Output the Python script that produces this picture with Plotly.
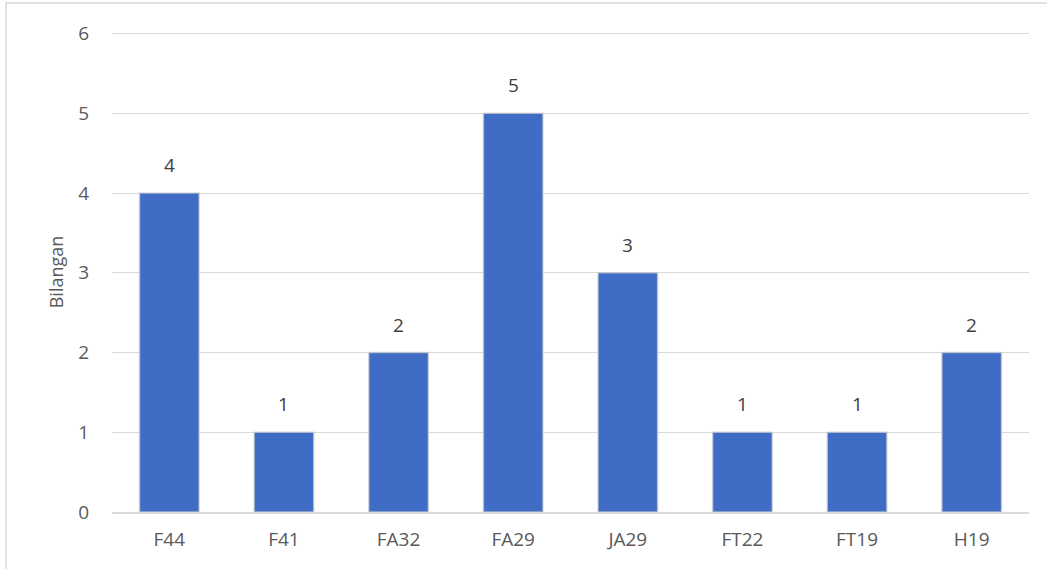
import plotly.graph_objects as go

categories = ["F44", "F41", "FA32", "FA29", "JA29", "FT22", "FT19", "H19"]
values = [4, 1, 2, 5, 3, 1, 1, 2]
y_ticks = [0, 1, 2, 3, 4, 5, 6]
y_title = "Bilangan"

font_family = "Open Sans, Liberation Sans, sans-serif"

fig = go.Figure()
fig.add_trace(go.Bar(
    x=categories,
    y=values,
    marker=dict(color="#3F6DC6", line=dict(color="rgba(205,205,205,0.7)", width=1.5)),
    hoverinfo="x+y",
))

for c, v in zip(categories, values):
    fig.add_annotation(x=c, y=v, text=str(v), showarrow=False, yanchor="bottom",
                       yshift=13, font=dict(size=19, color="#404040", family=font_family))

fig.add_shape(type="rect", xref="paper", yref="paper", x0=-0.1156, y0=-0.3, x1=1.05, y1=1.0604,
              line=dict(color="#D9D9D9", width=1.5), fillcolor="rgba(0,0,0,0)", layer="below")

fig.update_layout(
    width=1047, height=569,
    margin=dict(l=112, r=18, t=32, b=57),
    paper_bgcolor="white", plot_bgcolor="white",
    bargap=0.48,
    showlegend=False,
    font=dict(family=font_family, size=19, color="#595959"),
    xaxis=dict(showgrid=False, showline=True, linecolor="#D9D9D9", linewidth=1.5,
               ticks="outside", ticklen=9, tickcolor="rgba(0,0,0,0)",
               tickfont=dict(size=19, color="#595959"), zeroline=False),
    yaxis=dict(range=[0, 6.02], tickvals=y_ticks, showgrid=True, gridcolor="#D9D9D9", gridwidth=1,
               zeroline=False, showline=False, ticks="outside", ticklen=18, tickcolor="rgba(0,0,0,0)",
               tickfont=dict(size=19, color="#595959"),
               title=dict(text=y_title, font=dict(size=18, color="#595959"), standoff=10)),
)

fig.write_html("out.html", config={"displayModeBar": False},
               post_script="document.body.style.margin='0';document.body.style.overflow='hidden';")
